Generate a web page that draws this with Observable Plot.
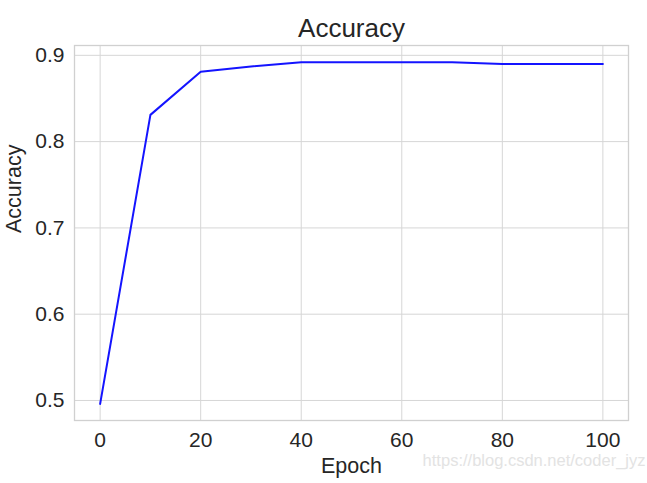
<!DOCTYPE html>
<html>
<head>
<meta charset="utf-8">
<script src="https://cdn.jsdelivr.net/npm/d3@7"></script>
<script src="https://cdn.jsdelivr.net/npm/@observablehq/plot@0.6"></script>
<style>
  html, body { margin: 0; padding: 0; background: #fff; }
</style>
</head>
<body>
<div id="chart"></div>
<script>
const epochs = [0, 10, 20, 30, 40, 50, 60, 70, 80, 90, 100];
const accuracy = [0.496, 0.831, 0.881, 0.887, 0.892, 0.892, 0.892, 0.892, 0.890, 0.890, 0.890];
const xTicks = [0, 20, 40, 60, 80, 100];
const yTicks = [0.5, 0.6, 0.7, 0.8, 0.9];
const titleText = "Accuracy";
const xLabel = "Epoch";
const yLabel = "Accuracy";
const watermark = "https://blog.csdn.net/coder_jyz";

const data = epochs.map((e, i) => ({epoch: e, acc: accuracy[i]}));

const font = "'Liberation Sans', Arial, sans-serif";

const chart = Plot.plot({
  width: 647,
  height: 483,
  marginLeft: 74,
  marginRight: 19,
  marginTop: 45,
  marginBottom: 63,
  style: {fontFamily: font, fontSize: "21px", color: "#262626", background: "#fff", overflow: "visible"},
  x: {domain: [-5.1, 105.1]},
  y: {domain: [0.4768, 0.9114]},
  marks: [
    Plot.gridX(xTicks, {stroke: "#d6d6d6", strokeOpacity: 1, strokeWidth: 1}),
    Plot.gridY(yTicks, {stroke: "#d6d6d6", strokeOpacity: 1, strokeWidth: 1}),
    Plot.frame({stroke: "#d0d0d0", strokeWidth: 1.3}),
    Plot.axisX(xTicks, {tickSize: 0, tickPadding: 12, label: null, fontSize: 21, fill: "#262626"}),
    Plot.axisY(yTicks, {tickSize: 0, tickPadding: 10, label: null, tickFormat: d3.format(".1f"), fontSize: 21, fill: "#262626"}),
    Plot.line(data, {x: "epoch", y: "acc", stroke: "#1414ff", strokeWidth: 2}),
    Plot.text([titleText], {frameAnchor: "top", dy: -27, fontSize: 26, fill: "#262626"}),
    Plot.text([xLabel], {frameAnchor: "bottom", dy: 52, fontSize: 21.5, fill: "#262626"}),
    Plot.text([yLabel], {frameAnchor: "left", dx: -60, rotate: -90, fontSize: 21.5, fill: "#262626"}),
    Plot.text([watermark], {frameAnchor: "bottom-right", dx: 17, dy: 45, textAnchor: "end", fontSize: 16.5, fill: "#e3e3e3"})
  ]
});

document.getElementById("chart").appendChild(chart);
</script>
</body>
</html>
